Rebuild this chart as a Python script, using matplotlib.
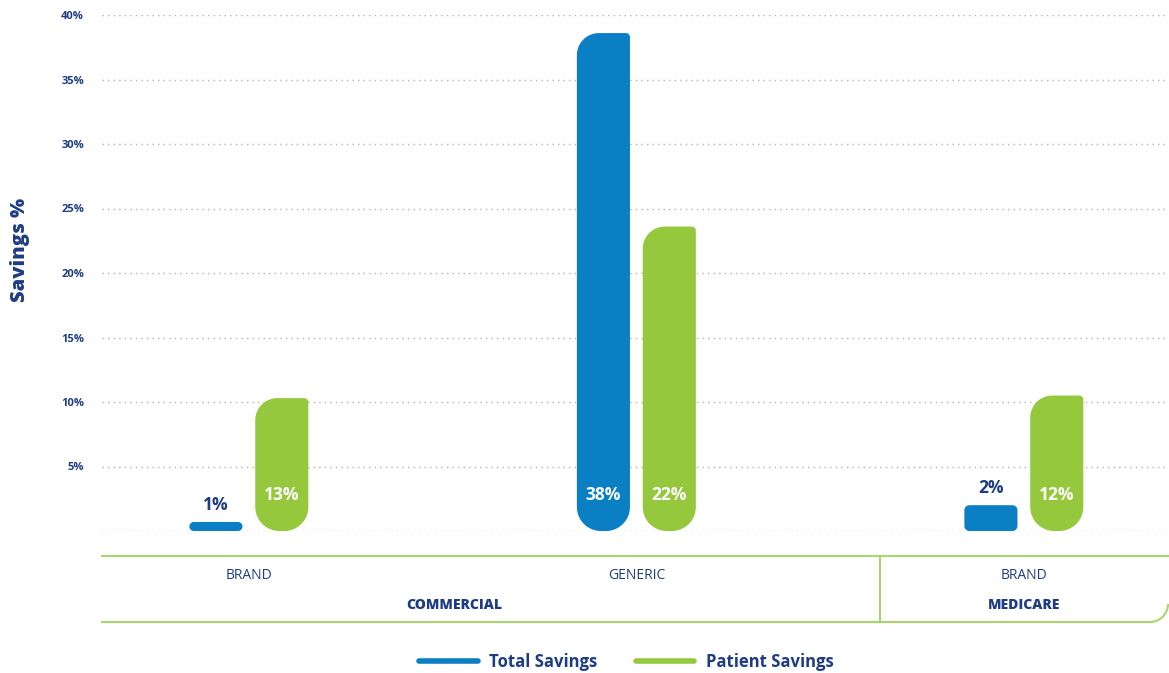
import numpy as np
import matplotlib
matplotlib.use("Agg")
from matplotlib import pyplot as plt
from matplotlib.patches import Polygon, Arc
from matplotlib.lines import Line2D

plt.rcParams['font.family'] = ['Open Sans', 'DejaVu Sans']

# data
categories = ["BRAND", "GENERIC", "BRAND"]
groups = ["COMMERCIAL", "MEDICARE"]
group_pos = [0.53, 2.0]
total_savings = [0.7, 38.6, 2.0]
patient_savings = [10.3, 23.6, 10.5]
total_labels = ["1%", "38%", "2%"]
patient_labels = ["13%", "22%", "12%"]
yticks = [0, 5, 10, 15, 20, 25, 30, 35, 40]

BLUE = '#0a7fc4'
GREEN = '#96c83e'
LINE_GREEN = '#a9d46e'
NAVY = '#1d3c84'

W, H = 1169, 673
fig = plt.figure(figsize=(W / 100, H / 100), dpi=100)
ax_rect = [102 / W, (H - 531) / H, 1066 / W, 516 / H]
ax = fig.add_axes(ax_rect)
ax.set_xlim(-0.379, 2.372)
ax.set_ylim(0, 40)

sx = ax_rect[2] * W / (2.372 + 0.379)
sy = ax_rect[3] * H / 40.0


def arc_pts(cx, cy, r, a0, a1):
    t = np.radians(np.linspace(a0, a1, 20))
    return np.column_stack([cx + r / sx * np.cos(t), cy + r / sy * np.sin(t)])


def rounded_bar(xc, w, h, color):
    h_px = h * sy
    if h_px < 40:
        r = min(5.0, h_px / 2)
        rbl = rbr = rtr = rtl = r
    else:
        rbl, rbr, rtr, rtl = 24, 24, 4, 22
    x0, x1 = xc - w / 2, xc + w / 2
    pts = [
        arc_pts(x0 + rbl / sx, rbl / sy, rbl, 180, 270),
        arc_pts(x1 - rbr / sx, rbr / sy, rbr, 270, 360),
        arc_pts(x1 - rtr / sx, h - rtr / sy, rtr, 0, 90),
        arc_pts(x0 + rtl / sx, h - rtl / sy, rtl, 90, 180),
    ]
    ax.add_patch(Polygon(np.vstack(pts), closed=True, facecolor=color,
                         edgecolor='none', zorder=3))


x = np.arange(len(categories))
bw = 0.137
off = 0.085
for i in range(len(categories)):
    rounded_bar(x[i] - off, bw, total_savings[i], BLUE)
    rounded_bar(x[i] + off, bw, patient_savings[i], GREEN)
    # total labels
    if total_savings[i] * sy < 40:
        ax.annotate(total_labels[i], (x[i] - off, total_savings[i]),
                    xytext=(0, 6), textcoords='offset points', ha='center',
                    va='bottom', color=NAVY, fontsize=12.5, fontweight='bold')
    else:
        ax.annotate(total_labels[i], (x[i] - off, 0), xytext=(0, 26),
                    textcoords='offset points', ha='center', va='center',
                    color='white', fontsize=12.5, fontweight='bold', zorder=4)
    ax.annotate(patient_labels[i], (x[i] + off, 0), xytext=(0, 26),
                textcoords='offset points', ha='center', va='center',
                color='white', fontsize=12.5, fontweight='bold', zorder=4)

# grid and axes
for yv in yticks:
    ax.axhline(yv, color='#b3b3b3', linewidth=1, linestyle=(0, (1, 3)), zorder=1)
ax.set_yticks(yticks)
ax.set_yticklabels([''] + ['%d%%' % v for v in yticks[1:]])
ax.tick_params(axis='y', length=0, pad=13, labelsize=8, labelcolor=NAVY)
for lab in ax.get_yticklabels():
    lab.set_fontweight('bold')
ax.set_xticks([])
for s in ax.spines.values():
    s.set_visible(False)

fig.text(20 / W, (H - 250) / H, 'Savings %', rotation=90, ha='center',
         va='center', color=NAVY, fontsize=14.5, fontweight='heavy')

# category and group labels
tr = ax.get_xaxis_transform()
for i, c in enumerate(categories):
    ax.text(x[i], -0.0853, c, transform=tr, ha='center', va='center',
            color=NAVY, fontsize=10, clip_on=False)
for g, gp in zip(groups, group_pos):
    ax.text(gp, -0.1434, g, transform=tr, ha='center', va='center',
            color=NAVY, fontsize=10, fontweight='heavy', clip_on=False)

# green frame below the chart (pixel overlay)
ov = fig.add_axes([0, 0, 1, 1], zorder=-1)
ov.set_xlim(0, W)
ov.set_ylim(H, 0)
ov.axis('off')
ov.plot([102, 1168], [556, 556], color=LINE_GREEN, linewidth=1.5)
ov.plot([102, 1150], [622, 622], color=LINE_GREEN, linewidth=1.5)
ov.plot([880, 880], [556, 622], color=LINE_GREEN, linewidth=1.5)
ov.add_patch(Arc((1150, 604), 36, 36, theta1=0, theta2=90,
                 color=LINE_GREEN, linewidth=1.5))

# legend
handles = [Line2D([], [], color=BLUE, linewidth=4, solid_capstyle='round'),
           Line2D([], [], color=GREEN, linewidth=4, solid_capstyle='round')]
leg = fig.legend(handles, ['Total Savings', 'Patient Savings'], loc='center',
                 bbox_to_anchor=(0.536, 0.0165), ncol=2, frameon=False,
                 handlelength=3.5, handletextpad=0.7, columnspacing=2.3,
                 prop={'size': 12, 'weight': 'bold'})
for t in leg.get_texts():
    t.set_color(NAVY)

fig.savefig('out.png', dpi=100)
